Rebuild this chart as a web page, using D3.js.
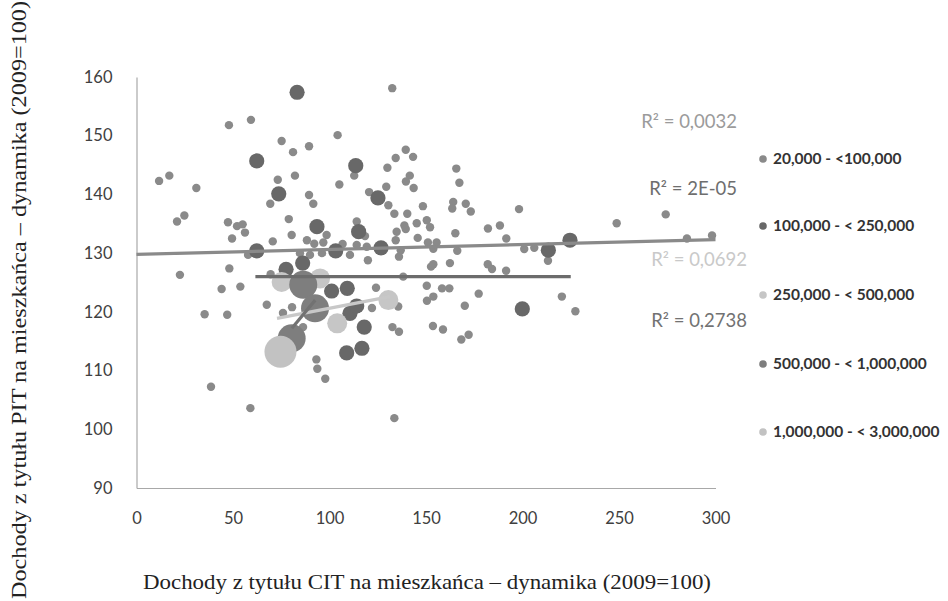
<!DOCTYPE html>
<html><head><meta charset="utf-8">
<script src="https://cdn.jsdelivr.net/npm/d3@7"></script>
<style>body{margin:0;background:#fff}svg{display:block}</style>
</head><body>
<svg id="c" width="948" height="601"></svg>
<script>
// ---- DATA ----
const categories = ["20,000 - <100,000", "100,000 - < 250,000", "250,000 - < 500,000", "500,000 - < 1,000,000", "1,000,000 - < 3,000,000"];
const xTicks = [0, 50, 100, 150, 200, 250, 300];
const yTicks = [90, 100, 110, 120, 130, 140, 150, 160];

const s1x = [11.7,17.0,31.0,21.0,24.8,47.9,59.3,75.2,81.1,89.4,73.2,82.1,89.4,91.6,69.3,78.9,47.4,52.1,55.0,56.2,49.5,70.6,80.4,88.3,98.5,104.2,105.1,132.5,112.8,139.5,134.3,143.3,130.0,165.7,167.3,141.6,139.6,143.6,129.4,120.5,130.5,148.4,164.1,163.6,170.6,173.2,198.2,133.6,140.3,145.2,150.4,152.1,138.8,139.5,134.8,145.7,151.0,155.5,165.2,182.1,188.3,191.6,114.1,118.4,92.1,96.8,106.8,114.1,119.3,134.3,136.9,153.8,166.2,200.9,206.1,248.8,274.2,285.2,298.2,213.2,220.4,227.4,136.0,153.8,152.6,162.4,182.0,184.2,191.5,138.2,150.4,158.3,162.1,177.3,153.8,150.5,170.1,135.6,153.6,158.8,168.3,172.1,136.0,48.1,44.1,53.8,35.3,47.0,67.5,38.6,59.0,133.6,93.2,93.7,97.8,69.5,22.5,57.8,84.7,89.9,96.1,110.6,119.9,80.6,75.9,86.3,122.0,124.1,132.6];
const s1y = [142.3,143.2,141.1,135.4,136.4,151.8,152.7,149.1,147.2,148.2,142.5,143.2,139.9,138.4,138.4,135.8,135.25,134.6,134.9,133.5,132.5,132.0,133.1,132.2,133.1,150.1,141.7,158.1,143.2,147.6,146.2,146.4,144.55,144.4,142.0,143.2,142.2,141.1,141.3,140.4,138.15,138.0,138.7,137.6,138.4,137.1,137.5,136.7,136.7,135.1,135.6,134.4,134.7,134.1,133.65,132.6,131.8,131.8,133.4,134.2,134.7,132.5,135.4,132.9,131.6,131.8,131.55,131.4,131.1,132.2,130.5,130.75,130.4,130.7,130.9,135.1,136.6,132.5,133.0,128.7,122.6,120.1,129.4,128.1,127.7,128.3,128.1,127.3,127.0,126.0,124.45,124.0,124.0,123.1,122.6,121.9,121.05,120.9,117.6,117.0,115.3,116.1,116.6,127.4,123.9,124.3,119.6,119.5,121.2,107.25,103.6,101.9,111.9,110.3,108.6,126.4,126.3,129.7,130.0,129.7,130.0,129.7,128.8,120.8,119.8,117.4,120.65,124.1,117.4];

const s2x = [83.2,62.3,73.7,93.5,62.3,103.2,113.6,125.1,115.1,126.7,213.4,224.6,199.9,86.1,77.5,101.1,109.2,110.6,114.1,118.0,108.9,116.8];
const s2y = [157.4,145.7,140.1,134.5,130.4,130.4,144.9,139.4,133.65,130.9,130.5,132.2,120.5,128.3,127.25,123.55,124.0,119.75,121.0,117.4,113.0,113.8];

const s3x = [75.2,95.1,104.0,130.5];
const s3y = [125.1,125.7,118.05,122.0];

const s4x = [86.4,92.5,80.4];
const s4y = [124.6,120.6,115.5];

const s5x = [74.6];
const s5y = [113.2];

const r2Labels = ["R² = 0,0032", "R² = 2E-05", "R² = 0,0692", "R² = 0,2738"];
const trendX0 = [0, 61.6, 72.8, 80.5];
const trendX1 = [300, 225, 131.3, 92.6];
const trendY0 = [129.8, 126.0, 118.9, 117.2];
const trendY1 = [132.3, 126.0, 122.6, 122.0];

// ---- STYLE ----
const colors = ["#8a8a8a", "#686868", "#c6c6c6", "#7e7e7e", "#c2c2c2"];
const radii = [4.2, 7.6, 10, 14, 16];
const lineColors = ["#8a8a8a", "#6c6c6c", "#c8c8c8", "#727272"];
const r2Colors = ["#9b9b9b", "#6e6e6e", "#c9c9c9", "#727272"];
const r2Pos = [[737, 128], [737, 195], [747, 266], [747, 327]];

const svg = d3.select("#c");
const x = d3.scaleLinear().domain([0, 300]).range([136.5, 715.5]);
const y = d3.scaleLinear().domain([90, 160]).range([488, 77]);

// axes
const gx = svg.append("g").attr("transform", "translate(0,488)")
  .call(d3.axisBottom(x).tickValues(xTicks).tickSize(0).tickPadding(24).tickFormat(d3.format("d")));
const gy = svg.append("g").attr("transform", "translate(136.5,0)")
  .call(d3.axisLeft(y).tickValues(yTicks).tickSize(0).tickPadding(24).tickFormat(d3.format("d")));
[gx, gy].forEach(g => {
  g.select(".domain").attr("stroke", "#a8a8a8").attr("stroke-width", 1.2);
  g.selectAll("text").attr("font-family", "Lato, 'Open Sans', sans-serif").attr("font-size", 16.5).attr("fill", "#404040");
});

// points
const series = [[s1x, s1y], [s2x, s2y], [s3x, s3y], [s4x, s4y], [s5x, s5y]];
const plot = svg.append("g");
series.forEach(([xs, ys], i) => {
  plot.append("g").selectAll("circle").data(xs.map((v, k) => [v, ys[k]])).join("circle")
    .attr("cx", d => x(d[0])).attr("cy", d => y(d[1])).attr("r", radii[i])
    .attr("fill", colors[i]);
});

// trend lines
const tl = svg.append("g");
trendX0.forEach((_, i) => {
  tl.append("line")
    .attr("x1", x(trendX0[i])).attr("y1", y(trendY0[i]))
    .attr("x2", x(trendX1[i])).attr("y2", y(trendY1[i]))
    .attr("stroke", lineColors[i]).attr("stroke-width", 3.2);
});

// R2 labels
r2Labels.forEach((t, i) => {
  svg.append("text").attr("x", r2Pos[i][0]).attr("y", r2Pos[i][1])
    .attr("text-anchor", "end").attr("font-family", "Lato, 'Open Sans', sans-serif")
    .attr("font-size", 18.5).attr("fill", r2Colors[i]).text(t);
});

// legend
const legY = [159, 226, 295, 364, 432];
categories.forEach((c, i) => {
  svg.append("circle").attr("cx", 763).attr("cy", legY[i]).attr("r", 3.8).attr("fill", colors[i]);
  svg.append("text").attr("x", 773).attr("y", legY[i] + 5)
    .attr("font-family", "Lato, 'Open Sans', sans-serif").attr("font-weight", "bold")
    .attr("font-size", 15.5).attr("fill", "#333").text(c);
});

// axis titles
svg.append("text").attr("x", 427).attr("y", 589).attr("text-anchor", "middle")
  .attr("font-family", "'Liberation Serif', 'Times New Roman', serif").attr("font-size", 21)
  .attr("fill", "#222").attr("textLength", 568).attr("lengthAdjust", "spacingAndGlyphs")
  .text("Dochody z tytułu CIT na mieszkańca – dynamika (2009=100)");
svg.append("text").attr("transform", "translate(26,300) rotate(-90)").attr("text-anchor", "middle")
  .attr("font-family", "'Liberation Serif', 'Times New Roman', serif").attr("font-size", 22)
  .attr("fill", "#222").attr("textLength", 598).attr("lengthAdjust", "spacingAndGlyphs")
  .text("Dochody z tytułu PIT na mieszkańca – dynamika (2009=100)");
</script>
</body></html>
